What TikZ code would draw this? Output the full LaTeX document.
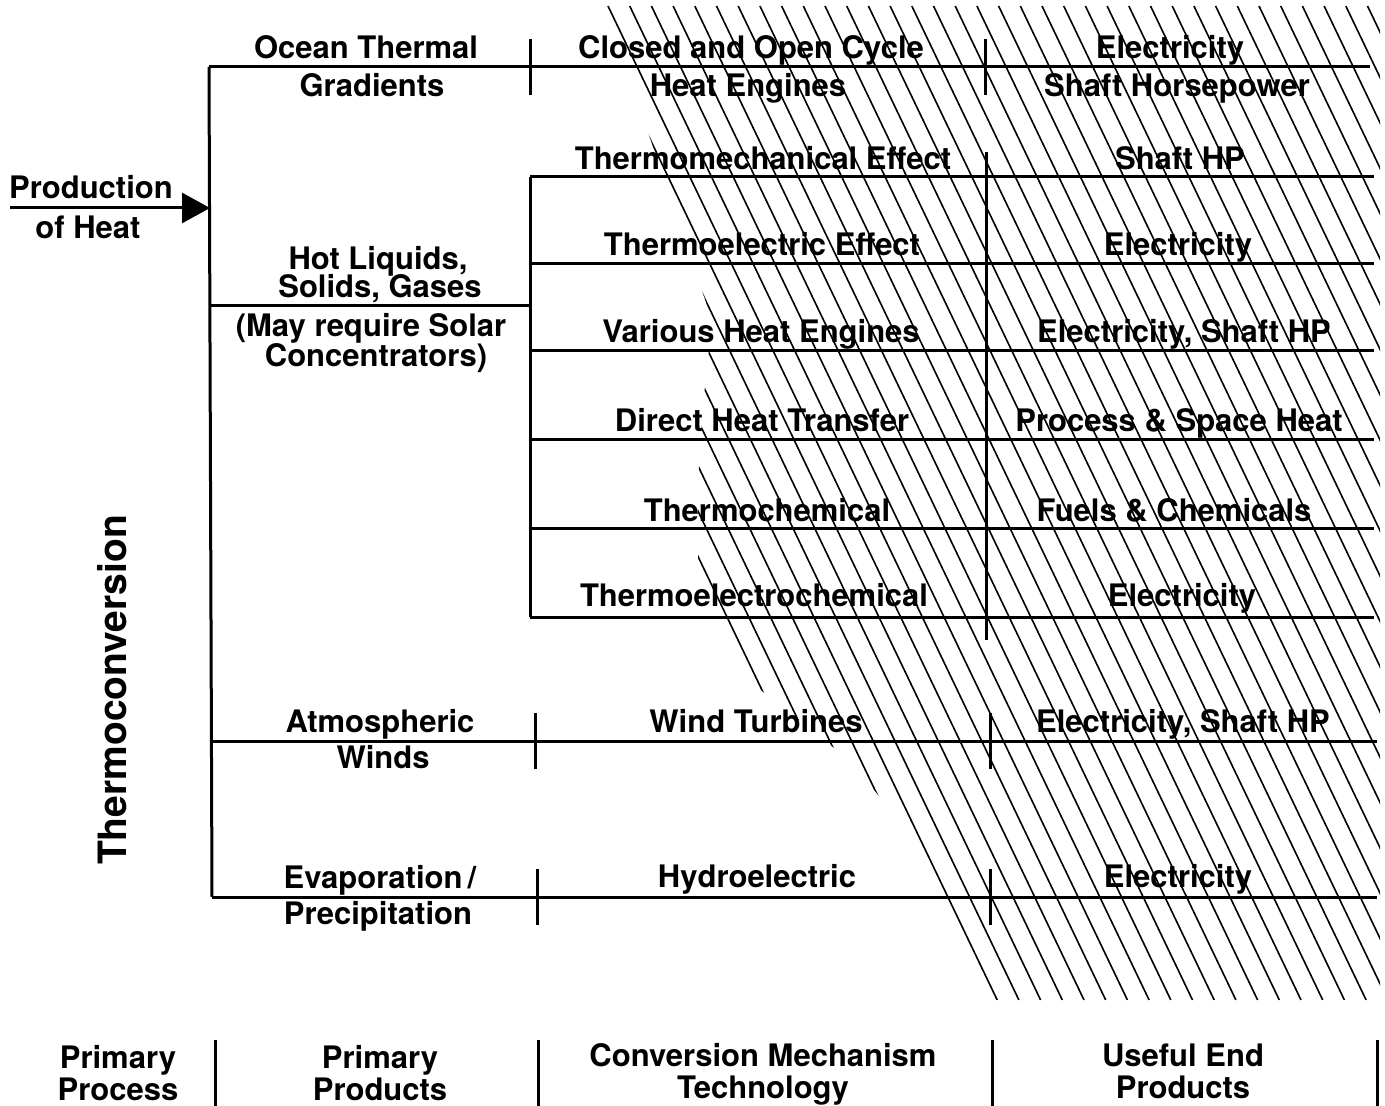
\documentclass[tikz,border=0pt]{standalone}
\usepackage{fontspec}
\setmainfont{TeX Gyre Heros}
\usepackage{tikz}
\usetikzlibrary{arrows.meta}

\tikzset{
    lbl/.style={font=\bfseries\fontsize{15.5}{17}\selectfont, inner sep=0pt, anchor=base},
    rule/.style={line width=1.5pt},
    hatch/.style={line width=0.8pt},
}

\begin{document}
\begin{tikzpicture}[x=0.5pt, y=-0.5pt]
    \useasboundingbox (0,0) rectangle (1385,1106);
    % hatched zone
    \begin{scope}
        \clip (605,6) -- (1380,6) -- (1380,1000) -- (985,1000) -- (955,950) -- (945,895)
            -- (908,833) -- (852,762) -- (748,680) -- (712,615) -- (698,573) -- (698,482)
            -- (703,405) -- (712,320) -- cycle;
        \foreach \i in {-22,...,36} {
            \draw[hatch] (608+21.7*\i,6) -- ++(476,994);
        }
    \end{scope}

    \coordinate (src) at (10,208);
    \coordinate (hub) at (210,208);
    \node[lbl] (prod1) at (91,199) {Production};
    \node[lbl] (prod2) at (88,239) {of Heat};
    \draw[rule, -{Triangle[length=14pt, width=15pt]}] (src) -- (hub);
    \node[lbl, font=\bfseries\fontsize{19.5}{21}\selectfont, rotate=90, anchor=center] (thermo) at (112,690) {Thermoconversion};

    % tree lines
    \draw[rule] (209,67) -- (212,897);
    \draw[rule] (209,67) -- (1370,67);
    \draw[rule] (209,306) -- (530,306);
    \draw[rule] (530,177) -- (530,617);
    \foreach \y in {177,264,351,440,528,617}
        \draw[rule] (530,\y) -- (1374,\y);
    \draw[rule] (986,152) -- (986,640);
    \draw[rule] (212,741) -- (1377,741);
    \draw[rule] (212,897) -- (1377,897);
    \foreach \x/\y in {530/67, 985/67, 535/741, 990/741, 537/897, 990/897}
        \draw[rule] (\x,\y-28) -- (\x,\y+28);

    % primary products
    \foreach \n/\x/\y/\txt in {1/366/59/{Ocean Thermal}, 2/372/97/Gradients,
        3/378/270/{Hot Liquids,}, 4/380/298/{Solids, Gases},
        5/371/337/{(May require Solar}, 6/376/367/{Concentrators)},
        7/380/732/Atmospheric, 8/383/768/Winds,
        9/380/888/{Evaporation\,/}, 10/378/924/Precipitation}
        \node[lbl] (pp\n) at (\x,\y) {\txt};

    % mechanisms and end products
    \foreach \n/\y/\xa/\mech/\xb/\prod in {
        1/59/751/{Closed and Open Cycle}/1170/Electricity,
        2/97/748/{Heat Engines}/1177/{Shaft Horsepower},
        3/170/763/{Thermomechanical Effect}/1180/{Shaft HP},
        4/256/762/{Thermoelectric Effect}/1178/Electricity,
        5/343/761/{Various Heat Engines}/1184/{Electricity, Shaft HP},
        6/432/762/{Direct Heat Transfer}/1179/{Process \& Space Heat},
        7/521/767/Thermochemical/1174/{Fuels \& Chemicals},
        8/606/754/Thermoelectrochemical/1182/Electricity,
        9/732/756/{Wind Turbines}/1183/{Electricity, Shaft HP},
        10/887/757/Hydroelectric/1178/Electricity}
    {
        \node[lbl] (mech\n) at (\xa,\y) {\mech};
        \node[lbl] (end\n) at (\xb,\y) {\prod};
    }

    % column headings
    \foreach \x in {215,538,992,1377}
        \draw[rule] (\x,1040) -- (\x,1106);
    \foreach \n/\x/\y/\txt in {1/118/1068/Primary, 2/118/1100/Process,
        3/380/1068/Primary, 4/380/1100/Products,
        5/763/1066/{Conversion Mechanism}, 6/763/1098/Technology,
        7/1183/1066/{Useful End}, 8/1183/1098/Products}
        \node[lbl] (head\n) at (\x,\y) {\txt};
\end{tikzpicture}
\end{document}
